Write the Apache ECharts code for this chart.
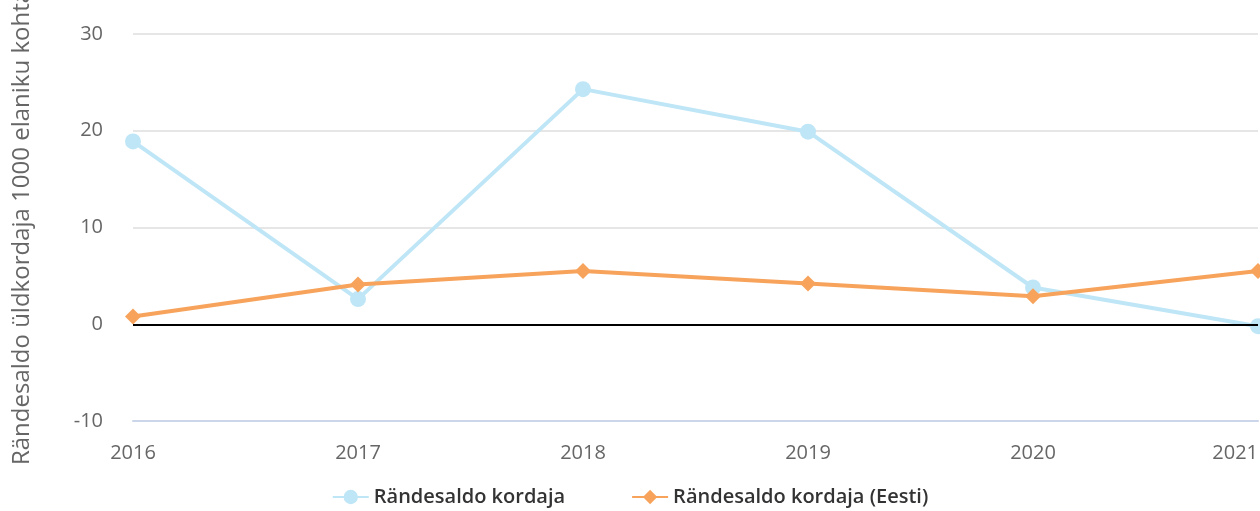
<!DOCTYPE html>
<html>
<head>
<meta charset="utf-8">
<script src="https://cdn.jsdelivr.net/npm/echarts@6/dist/echarts.min.js"></script>
<style>
  html, body { margin: 0; padding: 0; background: #fff; }
  #chart { width: 1260px; height: 511px; }
</style>
</head>
<body>
<div id="chart"></div>
<script>
var years = ['2016', '2017', '2018', '2019', '2020', '2021'];
var kordaja = [18.9, 2.6, 24.3, 19.9, 3.8, -0.2];
var kordajaEesti = [0.8, 4.1, 5.5, 4.2, 2.9, 5.5];
var yTicks = { min: -10, max: 30, interval: 10 };

var font = '"Open Sans", sans-serif';

var option = {
    animation: false,
    textStyle: { fontFamily: font },
    grid: { left: 133, right: 2, top: 34, bottom: 90, containLabel: false, outerBoundsMode: 'none' },
    legend: {
        bottom: -1,
        left: 'center',
        itemWidth: 36,
        itemHeight: 18,
        itemGap: 66,
        textStyle: { fontSize: 20, fontWeight: 600, color: '#333', fontFamily: font },
        data: ['Rändesaldo kordaja', 'Rändesaldo kordaja (Eesti)']
    },
    xAxis: {
        type: 'category',
        boundaryGap: false,
        data: years,
        axisLine: { onZero: false, lineStyle: { color: '#ccd6eb', width: 2 } },
        axisTick: { show: false },
        axisLabel: { color: '#666', fontSize: 20, margin: 22, alignMaxLabel: 'right' },
        splitLine: { show: false }
    },
    yAxis: {
        type: 'value',
        min: yTicks.min,
        max: yTicks.max,
        interval: yTicks.interval,
        name: 'Rändesaldo üldkordaja 1000 elaniku kohta',
        nameLocation: 'middle',
        nameGap: 99,
        nameTextStyle: { color: '#666', fontSize: 24 },
        axisLine: { show: false },
        axisTick: { show: false },
        axisLabel: { color: '#666', fontSize: 20, margin: 30 },
        splitLine: { lineStyle: { color: '#e6e6e6', width: 2 } }
    },
    series: [
        {
            name: 'Rändesaldo kordaja',
            type: 'line',
            data: kordaja,
            symbol: 'circle',
            symbolSize: 16,
            lineStyle: { width: 4, color: '#bfe6f6' },
            itemStyle: { color: '#bfe6f6' },
            markLine: {
                silent: true,
                symbol: 'none',
                label: { show: false },
                lineStyle: { color: '#000', width: 2, type: 'solid' },
                data: [{ yAxis: 0 }]
            },
            z: 3
        },
        {
            name: 'Rändesaldo kordaja (Eesti)',
            type: 'line',
            data: kordajaEesti,
            symbol: 'diamond',
            symbolSize: 16,
            lineStyle: { width: 4, color: '#f7a35c' },
            itemStyle: { color: '#f7a35c' },
            z: 4
        }
    ]
};

var myChart = echarts.init(document.getElementById('chart'));
myChart.setOption(option);
</script>
</body>
</html>
